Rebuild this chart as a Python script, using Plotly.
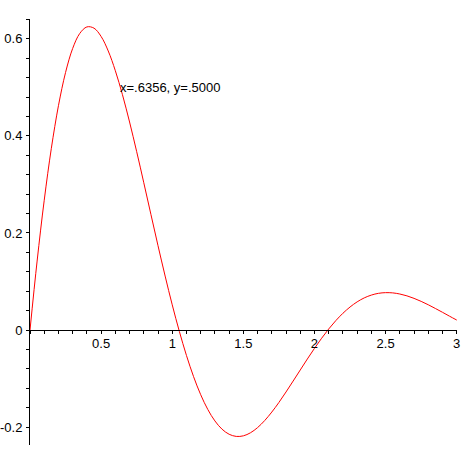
import plotly.graph_objects as go

x_vals = [0.0, 0.05, 0.1, 0.15, 0.2, 0.25, 0.3, 0.35, 0.4, 0.45,
          0.5, 0.55, 0.6, 0.65, 0.7, 0.75, 0.8, 0.85, 0.9, 0.95,
          1.0, 1.05, 1.1, 1.15, 1.2, 1.25, 1.3, 1.35, 1.4, 1.45,
          1.5, 1.55, 1.6, 1.65, 1.7, 1.75, 1.8, 1.85, 1.9, 1.95,
          2.0, 2.05, 2.1, 2.15, 2.2, 2.25, 2.3, 2.35, 2.4, 2.45,
          2.5, 2.55, 2.6, 2.65, 2.7, 2.75, 2.8, 2.85, 2.9, 2.95, 3.0]
y_vals = [0.0, 0.1421, 0.2674, 0.3744, 0.4623, 0.5308, 0.5803, 0.6113, 0.6247, 0.6221,
          0.6050, 0.5751, 0.5344, 0.4850, 0.4287, 0.3676, 0.3035, 0.2384, 0.1738, 0.1112,
          0.0519, -0.0029, -0.0525, -0.0961, -0.1333, -0.1638, -0.1874, -0.2044, -0.2149, -0.2193,
          -0.2181, -0.2118, -0.2011, -0.1866, -0.1691, -0.1493, -0.1277, -0.1052, -0.0824, -0.0597,
          -0.0378, -0.0171, 0.0021, 0.0193, 0.0345, 0.0474, 0.0580, 0.0662, 0.0720, 0.0756,
          0.0770, 0.0765, 0.0742, 0.0704, 0.0652, 0.0590, 0.0520, 0.0444, 0.0365, 0.0284, 0.0205]

x_ticks = [0.5, 1, 1.5, 2, 2.5, 3]
y_ticks = [-0.2, 0, 0.2, 0.4, 0.6]

note_x, note_y = 0.6356, 0.5
note_text = "x=.6356, y=.5000"

x_range = [0, 3.002]
y_range = [-0.237, 0.641]
zero_pos = (0 - y_range[0]) / (y_range[1] - y_range[0])

font = dict(family="Liberation Sans, Arial, sans-serif", size=13, color="black")

fig = go.Figure()
fig.add_trace(go.Scatter(x=x_vals, y=y_vals, mode="lines",
                         line=dict(color="#ff0000", width=1, shape="spline"),
                         showlegend=False, hoverinfo="skip", cliponaxis=False))

fig.add_annotation(x=note_x, y=note_y, text=note_text, showarrow=False,
                   xanchor="left", yanchor="middle", xshift=-2, font=font)

fig.update_layout(
    width=464, height=464,
    margin=dict(l=30, r=7, t=19, b=19),
    paper_bgcolor="white", plot_bgcolor="white",
    font=font,
    xaxis=dict(range=x_range, anchor="free", position=zero_pos, automargin=False,
               showgrid=False, zeroline=False,
               showline=True, linecolor="black", linewidth=1,
               ticks="outside", ticklen=3, tickcolor="black", tickwidth=1,
               ticklabelstandoff=-2,
               tickvals=x_ticks, ticktext=[f"{v:g}" for v in x_ticks],
               minor=dict(dtick=0.1, tick0=0, ticks="outside", ticklen=3,
                          tickcolor="black", showgrid=False)),
    yaxis=dict(range=y_range, automargin=False, showgrid=False, zeroline=False,
               showline=True, linecolor="black", linewidth=1,
               ticks="outside", ticklen=3, tickcolor="black", tickwidth=1,
               ticklabelstandoff=1,
               tickvals=y_ticks, ticktext=[f"{v:g}" for v in y_ticks],
               minor=dict(dtick=0.04, tick0=0, ticks="outside", ticklen=3,
                          tickcolor="black", showgrid=False)),
)

fig.write_html("out.html", config={"displayModeBar": False},
               post_script="document.body.style.margin='0';")
